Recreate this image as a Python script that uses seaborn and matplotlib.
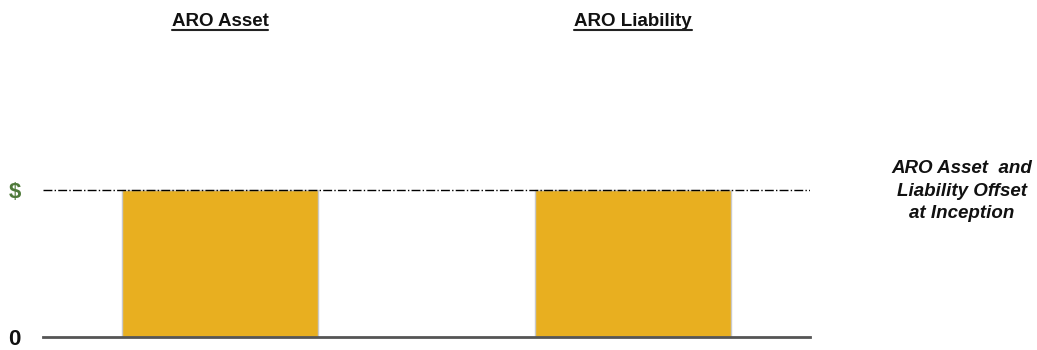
import matplotlib
matplotlib.use("Agg")
import matplotlib.pyplot as plt
import seaborn as sns
import pandas as pd
from matplotlib.lines import Line2D
import matplotlib.transforms as mtransforms

categories = ["ARO Asset", "ARO Liability"]
values = [1.0, 1.0]
ytick_values = [0, 1]
ytick_labels = ["0", "$"]
ytick_colors = ["#111111", "#4f7a3a"]
side_note = "ARO Asset  and\nLiability Offset\nat Inception"

sns.set_theme(style="white")
plt.rcParams["font.family"] = ["Liberation Sans", "DejaVu Sans"]

fig = plt.figure(figsize=(10.37, 3.5), dpi=100)
ax = fig.add_axes([43 / 1037, 13 / 350, 767 / 1037, 294 / 350])

df = pd.DataFrame({"category": categories, "value": values})
sns.barplot(data=df, x="category", y="value", color="#E8AF20", saturation=1,
            width=0.475, edgecolor="#c9c9c9", linewidth=1, ax=ax)

ax.set_xlim(-0.4286, 1.4286)
ax.set_ylim(0, 2.0)

# reference level at the recorded amount
ax.axhline(values[0], color="black", linestyle="-.", linewidth=1, zorder=3)

for side in ["top", "right", "left"]:
    ax.spines[side].set_visible(False)
ax.spines["bottom"].set_color("#555555")
ax.spines["bottom"].set_linewidth(2)

ax.set_xticks([])
ax.set_xlabel("")
ax.set_ylabel("")
ax.set_yticks(ytick_values)
ax.set_yticklabels(ytick_labels, fontsize=16, fontweight="bold")
for lbl, col in zip(ax.get_yticklabels(), ytick_colors):
    lbl.set_color(col)
ax.tick_params(axis="y", length=0, pad=16)
ax.get_yticklabels()[0].set_y(-0.055)

# underlined column headings
trans = mtransforms.blended_transform_factory(ax.transData, fig.transFigure)
title_texts = []
for i, name in enumerate(categories):
    t = ax.text(i, 1 - 21 / 350, name, transform=trans, ha="center", va="center",
                fontsize=13.5, fontweight="bold", color="#111111")
    title_texts.append(t)

fig.canvas.draw()
renderer = fig.canvas.get_renderer()
inv = fig.transFigure.inverted()
for t in title_texts:
    bb = t.get_window_extent(renderer)
    (x0, y0), (x1, _) = inv.transform([[bb.x0, bb.y0], [bb.x1, bb.y1]])
    fig.add_artist(Line2D([x0, x1], [y0 - 0.5 / 350, y0 - 0.5 / 350],
                          transform=fig.transFigure, color="#222222", linewidth=1.5))

fig.text(962 / 1037, 1 - 191 / 350, side_note, ha="center", va="center",
         fontsize=13.5, fontweight="bold", fontstyle="italic", color="#111111",
         linespacing=1.4)

fig.savefig("out.png", dpi=100)
